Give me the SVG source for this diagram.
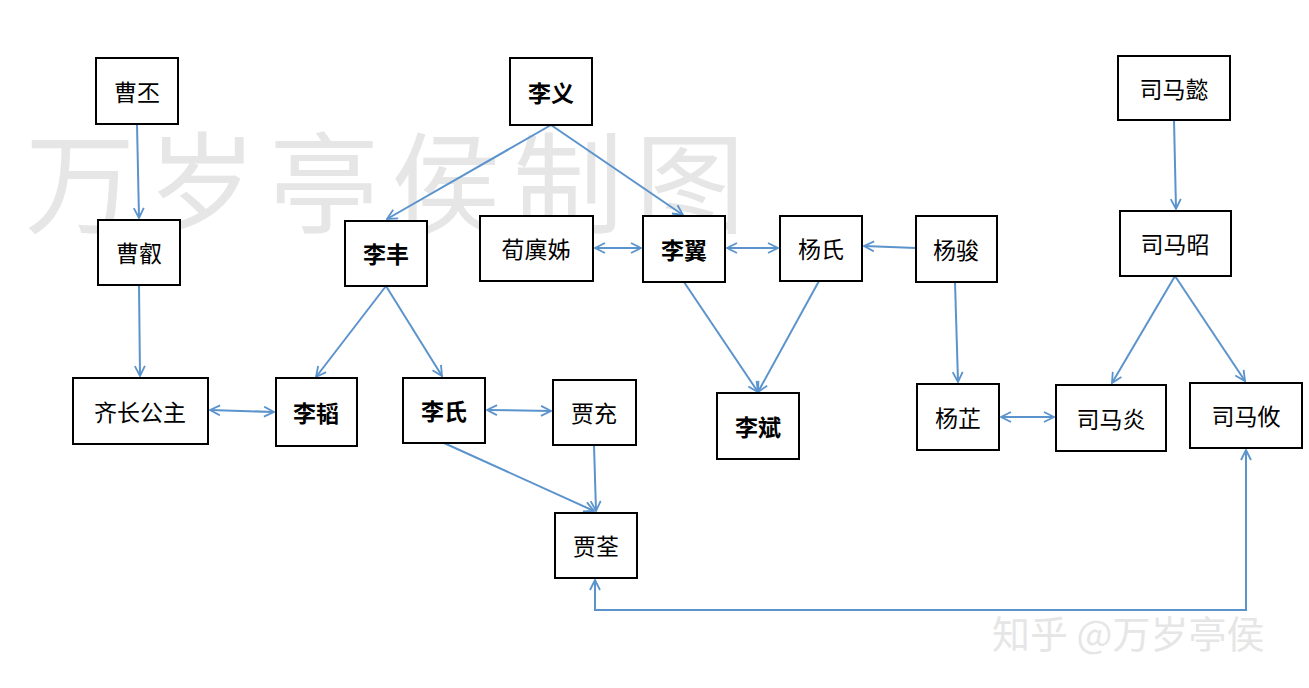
<svg xmlns="http://www.w3.org/2000/svg" width="1309" height="688" viewBox="0 0 1309 688">
<style>
.b{fill:#fff;stroke:#000;stroke-width:2}
.t{font-family:"Noto Sans CJK SC",sans-serif;font-size:23px;text-anchor:middle;dominant-baseline:central;fill:#000}
.bd{font-weight:bold}
.c{fill:none;stroke:#5b93cc;stroke-width:2;marker-end:url(#a)}
.d{marker-start:url(#a)}
.w{font-family:"Noto Sans CJK SC",sans-serif;fill:#e6e6e6}
</style>
<defs><marker id="a" viewBox="0 0 12 12" refX="11" refY="6" markerWidth="12" markerHeight="12" markerUnits="userSpaceOnUse" orient="auto-start-reverse"><polyline points="1,1 11,6 1,11" fill="none" stroke="#5b93cc" stroke-width="1.8"/></marker></defs>
<rect width="1309" height="688" fill="#fff"/>
<text class="w" x="25" y="225" font-size="110" letter-spacing="12">万岁亭侯制图</text>
<text class="w" x="992" y="648" font-size="38" fill="#d0d0d0">知乎 @万岁亭侯</text>
<g id="connectors">
<line class="c" x1="137" y1="124" x2="139" y2="218"/>
<line class="c" x1="139" y1="285" x2="140" y2="376"/>
<line class="c d" x1="210" y1="410" x2="274" y2="412"/>
<line class="c" x1="551" y1="125" x2="387" y2="219"/>
<line class="c" x1="551" y1="125" x2="683" y2="215"/>
<line class="c" x1="386" y1="286" x2="316" y2="377"/>
<line class="c" x1="386" y1="286" x2="442" y2="376"/>
<line class="c d" x1="487" y1="410" x2="551" y2="411"/>
<line class="c" x1="444" y1="443" x2="594" y2="511"/>
<line class="c" x1="594" y1="445" x2="596" y2="511"/>
<line class="c d" x1="595" y1="248" x2="641" y2="248"/>
<line class="c d" x1="727" y1="248" x2="778" y2="248"/>
<line class="c" x1="916" y1="248" x2="864" y2="246"/>
<line class="c" x1="684" y1="282" x2="758" y2="392"/>
<line class="c" x1="819" y1="281" x2="758" y2="392"/>
<line class="c" x1="955" y1="282" x2="958" y2="382"/>
<line class="c d" x1="1001" y1="417" x2="1054" y2="417"/>
<line class="c" x1="1174" y1="120" x2="1176" y2="209"/>
<line class="c" x1="1175" y1="276" x2="1112" y2="383"/>
<line class="c" x1="1175" y1="276" x2="1245" y2="381"/>
<polyline class="c d" points="595,580 595,610 1246,610 1246,450"/>
</g>
<g id="n1"><rect class="b" x="96" y="58" width="82" height="66"/><text class="t" x="137" y="91">曹丕</text></g>
<g id="n2"><rect class="b" x="98" y="220" width="82" height="65"/><text class="t" x="139" y="252">曹叡</text></g>
<g id="n3"><rect class="b" x="73" y="378" width="135" height="66"/><text class="t" x="140" y="411">齐长公主</text></g>
<g id="n4"><rect class="b" x="276" y="378" width="81" height="68"/><text class="t bd" x="316" y="412">李韬</text></g>
<g id="n5"><rect class="b" x="345" y="221" width="82" height="65"/><text class="t bd" x="386" y="253">李丰</text></g>
<g id="n6"><rect class="b" x="510" y="58" width="82" height="67"/><text class="t bd" x="551" y="92">李义</text></g>
<g id="n7"><rect class="b" x="480" y="216" width="113" height="65"/><text class="t" x="536" y="248">荀廙姊</text></g>
<g id="n8"><rect class="b" x="643" y="216" width="82" height="66"/><text class="t bd" x="684" y="249">李翼</text></g>
<g id="n9"><rect class="b" x="780" y="216" width="82" height="65"/><text class="t" x="821" y="248">杨氏</text></g>
<g id="n10"><rect class="b" x="916" y="216" width="81" height="66"/><text class="t" x="956" y="249">杨骏</text></g>
<g id="n11"><rect class="b" x="403" y="378" width="82" height="65"/><text class="t bd" x="444" y="410">李氏</text></g>
<g id="n12"><rect class="b" x="553" y="380" width="83" height="65"/><text class="t" x="594" y="412">贾充</text></g>
<g id="n13"><rect class="b" x="555" y="513" width="82" height="65"/><text class="t" x="596" y="545">贾荃</text></g>
<g id="n14"><rect class="b" x="717" y="393" width="82" height="66"/><text class="t bd" x="758" y="426">李斌</text></g>
<g id="n15"><rect class="b" x="917" y="384" width="82" height="66"/><text class="t" x="958" y="417">杨芷</text></g>
<g id="n16"><rect class="b" x="1056" y="385" width="110" height="66"/><text class="t" x="1111" y="418">司马炎</text></g>
<g id="n17"><rect class="b" x="1190" y="383" width="112" height="65"/><text class="t" x="1246" y="415">司马攸</text></g>
<g id="n18"><rect class="b" x="1118" y="56" width="112" height="64"/><text class="t" x="1174" y="88">司马懿</text></g>
<g id="n19"><rect class="b" x="1120" y="211" width="111" height="65"/><text class="t" x="1175" y="243">司马昭</text></g>
</svg>
